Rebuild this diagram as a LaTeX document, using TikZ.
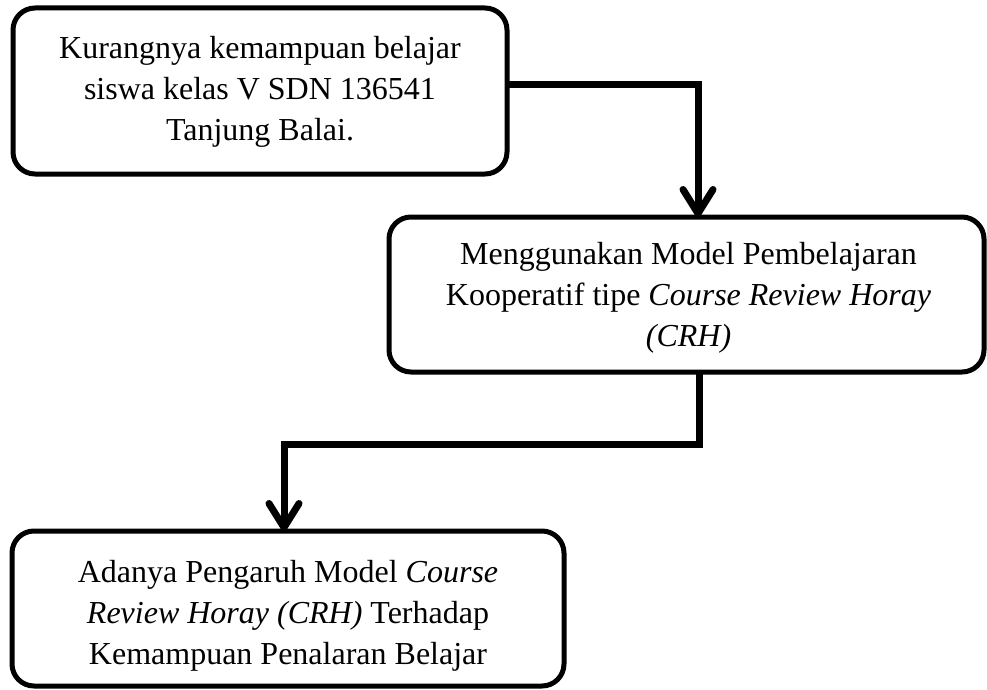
\documentclass[tikz,border=0pt]{standalone}
\usepackage{fontspec}
\setmainfont{Liberation Serif}
\usetikzlibrary{arrows.meta}
\begin{document}
\begin{tikzpicture}[x=1pt,y=-1pt,
  box/.style={draw, line width=5pt, rounded corners=22pt, inner sep=0pt, outer sep=0pt},
  txt/.style={align=center, inner sep=0pt, font=\fontsize{32}{41}\selectfont},
  conn/.style={line width=7pt, line join=miter, -{Straight Barb[length=24pt,width=30pt,round]}}]
\fill[white] (0,0) rectangle (987,690);
\useasboundingbox (0,0) rectangle (987,690);
% boxes
\node[box, minimum width=494pt, minimum height=166pt] (b1) at (260,91) {};
\node[box, minimum width=595pt, minimum height=155pt] (b2) at (686.5,294.5) {};
\node[box, minimum width=552pt, minimum height=155pt] (b3) at (288,608.5) {};
% texts
\node[txt] (t1) at (260,92) {Kurangnya kemampuan belajar\\siswa kelas V SDN 136541\\Tanjung Balai.};
\node[txt] (t2) at (688.5,298) {Menggunakan Model Pembelajaran\\Kooperatif tipe \textit{Course Review Horay}\\\textit{(CRH)}};
\node[txt] (t3) at (288,616) {Adanya Pengaruh Model \textit{Course}\\\textit{Review Horay (CRH)} Terhadap\\Kemampuan Penalaran Belajar};
% connectors
\coordinate (c1) at (698,85);
\coordinate (c2) at (699,444);
\coordinate (c3) at (284,444);
\draw[conn] (b1.east |- c1) -- (c1) -- (c1 |- b2.north);
\draw[conn] (c2 |- b2.south) -- (c2) -- (c3) -- (c3 |- b3.north);
\end{tikzpicture}
\end{document}
